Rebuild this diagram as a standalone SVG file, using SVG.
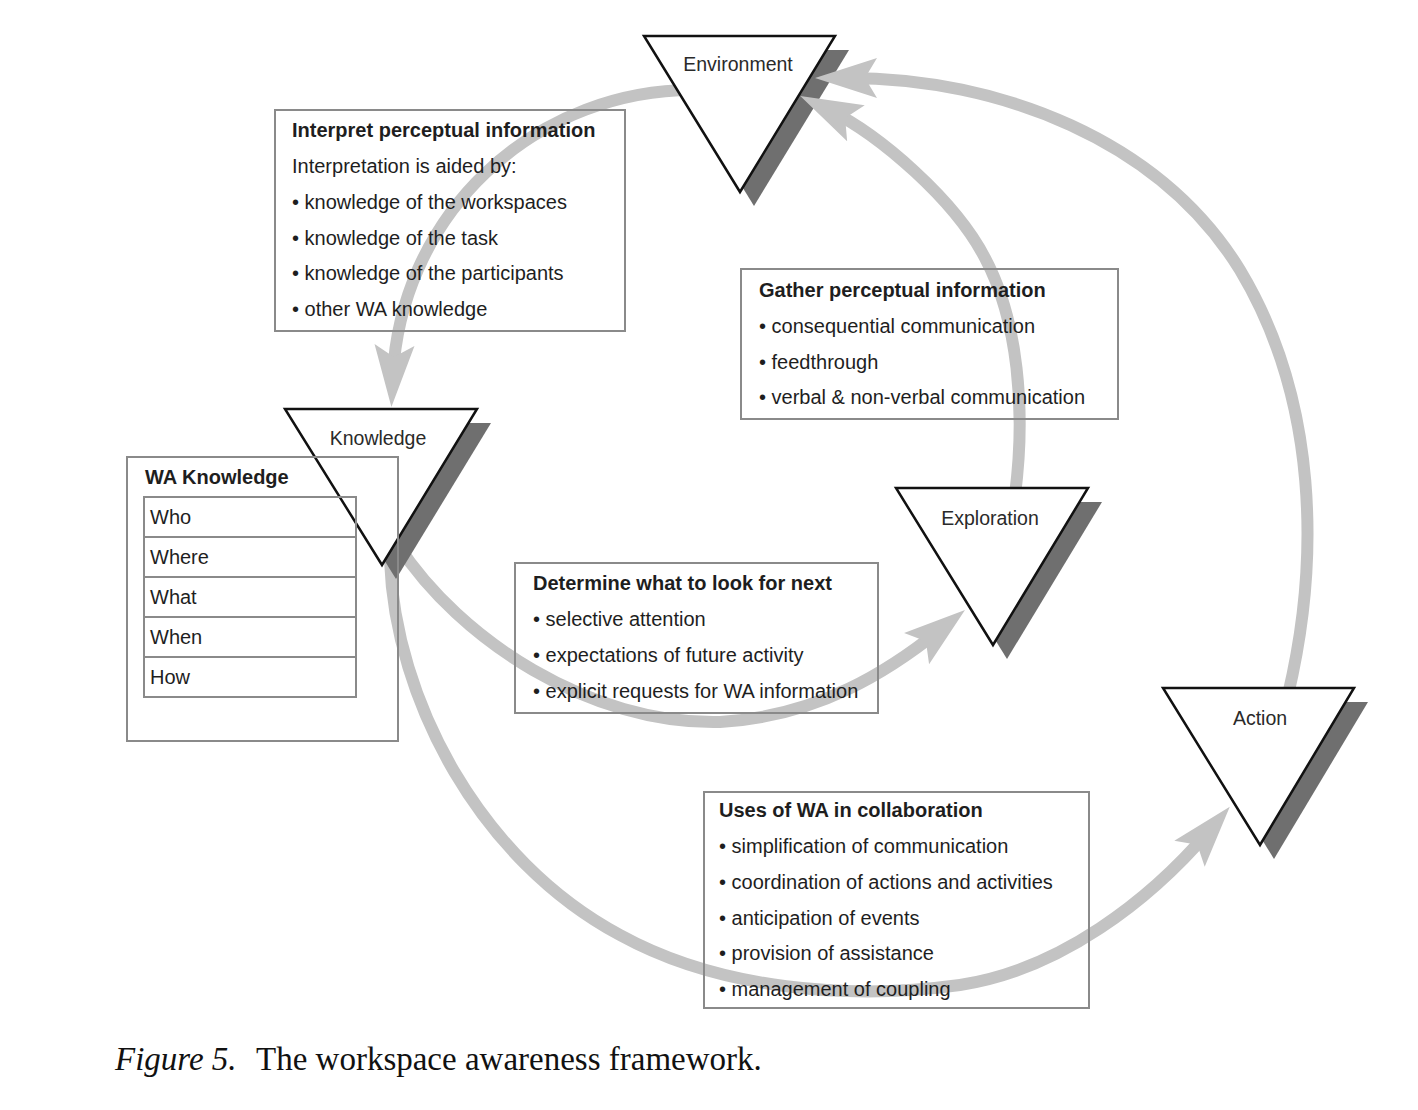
<svg xmlns="http://www.w3.org/2000/svg" width="1418" height="1110" viewBox="0 0 1418 1110">
<style>
.t{font-family:"Liberation Sans",Arial,sans-serif;font-size:20px;fill:#1e1e1e}
.b{font-weight:bold}
.lbl{font-family:"Liberation Sans",Arial,sans-serif;font-size:19.5px;fill:#2a2a2a;text-anchor:middle}
.box{fill:none;stroke:#8a8a8a;stroke-width:2}
.tri{fill:#fff;stroke:#111;stroke-width:2.5;stroke-linejoin:miter}
.sh{fill:#6f6f6f}
.arc{fill:none;stroke:#c3c3c3;stroke-width:12;marker-end:url(#ah)}
.cap{font-family:"Liberation Serif","Times New Roman",serif;font-size:33px;fill:#111}
</style>
<defs>
<marker id="ah" markerUnits="userSpaceOnUse" markerWidth="70" markerHeight="50" viewBox="0 -25 70 50" refX="30" refY="0" orient="auto" overflow="visible">
<path d="M0,-20 L62,0 L0,20 L12,0 Z" fill="#c3c3c3"/>
</marker>
</defs>
<rect x="0" y="0" width="1418" height="1110" fill="#fff"/>

<g id="environment-shadow">
<polygon class="sh" points="658,50 849,50 754,206"/>
</g>

<g id="connectors">
<path id="env-to-knowledge" class="arc" d="M693,90 A300,300 0 0 0 393,375"/>
<path id="exploration-to-env" class="arc" d="M1015,495 C1026,410 1018,320 985,258 C955,200 880,135 829,110"/>
<path id="action-to-env" class="arc" d="M1288,695 C1320,560 1318,400 1240,270 C1160,140 1000,78 847,78"/>
<path id="knowledge-to-exploration" class="arc" d="M398,545 C460,640 590,725 720,722 C820,716 890,670 940,630"/>
<path id="knowledge-to-action" class="arc" d="M390,560 C395,700 480,860 620,935 C720,990 850,1000 960,985 C1060,970 1150,900 1209,831"/>
</g>

<g id="environment">
<polygon class="tri" points="644,36 835,36 740,192"/>
<text class="lbl" x="738" y="71">Environment</text>
</g>

<g id="knowledge">
<polygon class="sh" points="299,423 491,423 396,579"/>
<polygon class="tri" points="285,409 477,409 382,565"/>
<text class="lbl" x="378" y="445">Knowledge</text>
</g>

<g id="exploration">
<polygon class="sh" points="910,502 1102,502 1007,659"/>
<polygon class="tri" points="896,488 1088,488 993,645"/>
<text class="lbl" x="990" y="525">Exploration</text>
</g>

<g id="action">
<polygon class="sh" points="1177,702 1368,702 1274,859"/>
<polygon class="tri" points="1163,688 1354,688 1260,845"/>
<text class="lbl" x="1260" y="725">Action</text>
</g>

<g id="interpret-box">
<rect class="box" x="275" y="110" width="350" height="221"/>
<text class="t b" x="292" y="137">Interpret perceptual information</text>
<text class="t" x="292" y="173">Interpretation is aided by:</text>
<text class="t" x="292" y="209">• knowledge of the workspaces</text>
<text class="t" x="292" y="245">• knowledge of the task</text>
<text class="t" x="292" y="280">• knowledge of the participants</text>
<text class="t" x="292" y="316">• other WA knowledge</text>
</g>

<g id="gather-box">
<rect class="box" x="741" y="269" width="377" height="150"/>
<text class="t b" x="759" y="297">Gather perceptual information</text>
<text class="t" x="759" y="333">• consequential communication</text>
<text class="t" x="759" y="369">• feedthrough</text>
<text class="t" x="759" y="404">• verbal &amp; non-verbal communication</text>
</g>

<g id="wa-knowledge-box">
<rect class="box" x="127" y="457" width="271" height="284"/>
<text class="t b" x="145" y="484">WA Knowledge</text>
<rect class="box" x="144" y="497" width="212" height="200"/>
<line class="box" x1="144" y1="537" x2="356" y2="537"/>
<line class="box" x1="144" y1="577" x2="356" y2="577"/>
<line class="box" x1="144" y1="617" x2="356" y2="617"/>
<line class="box" x1="144" y1="657" x2="356" y2="657"/>
<text class="t" x="150" y="524">Who</text>
<text class="t" x="150" y="564">Where</text>
<text class="t" x="150" y="604">What</text>
<text class="t" x="150" y="644">When</text>
<text class="t" x="150" y="684">How</text>
</g>

<g id="determine-box">
<rect class="box" x="515" y="563" width="363" height="150"/>
<text class="t b" x="533" y="590">Determine what to look for next</text>
<text class="t" x="533" y="626">• selective attention</text>
<text class="t" x="533" y="662">• expectations of future activity</text>
<text class="t" x="533" y="698">• explicit requests for WA information</text>
</g>

<g id="uses-box">
<rect class="box" x="704" y="792" width="385" height="216"/>
<text class="t b" x="719" y="817">Uses of WA in collaboration</text>
<text class="t" x="719" y="853">• simplification of communication</text>
<text class="t" x="719" y="889">• coordination of actions and activities</text>
<text class="t" x="719" y="925">• anticipation of events</text>
<text class="t" x="719" y="960">• provision of assistance</text>
<text class="t" x="719" y="996">• management of coupling</text>
</g>

<g id="caption">
<text class="cap" x="115" y="1070"><tspan font-style="italic">Figure 5.</tspan><tspan x="256">The workspace awareness framework.</tspan></text>
</g>
</svg>
